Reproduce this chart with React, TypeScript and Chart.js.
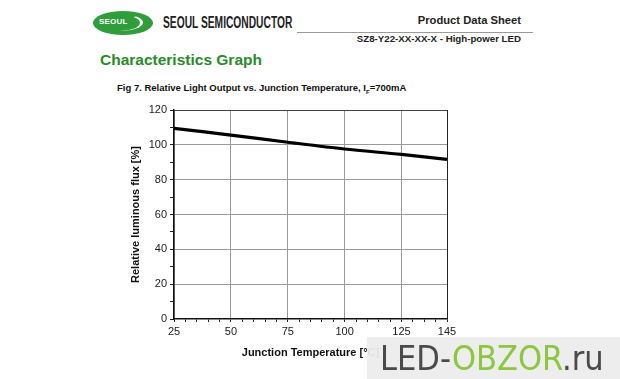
import React, { useEffect, useRef } from "react";
import { Chart, registerables } from "chart.js";

Chart.register(...registerables);

const temperatures = [25, 50, 75, 100, 125, 145];
const relativeFlux = [109.5, 105.6, 101.5, 97.6, 94.5, 91.6];
const xTickValues = [25, 30, 35, 40, 45, 50, 55, 60, 65, 70, 75, 80, 85, 90, 95, 100, 105, 110, 115, 120, 125, 130, 135, 140, 145];
const xLabeled = [25, 50, 75, 100, 125, 145];
const yMin = 0;
const yMax = 120;

const FONT = "'Liberation Sans', Arial, sans-serif";

export default function App() {
  const canvasRef = useRef<HTMLCanvasElement | null>(null);

  useEffect(() => {
    document.body.style.margin = "0";
    const canvas = canvasRef.current;
    if (!canvas) return;
    const chart = new Chart(canvas, {
      type: "line",
      data: {
        datasets: [
          {
            data: temperatures.map((t, i) => ({ x: t, y: relativeFlux[i] })),
            borderColor: "#000000",
            borderWidth: 3.2,
            pointRadius: 0,
            tension: 0.3,
            fill: false,
          },
        ],
      },
      options: {
        responsive: false,
        animation: false,
        layout: { padding: { left: 125, top: 110, right: 173, bottom: 19 } },
        plugins: { legend: { display: false }, tooltip: { enabled: false } },
        scales: {
          x: {
            type: "linear",
            min: 25,
            max: 145,
            afterBuildTicks: (scale: any) => {
              scale.ticks = xTickValues.map((v) => ({ value: v }));
            },
            afterFit: (scale: any) => {
              scale.height = 41;
            },
            ticks: {
              autoSkip: false,
              maxRotation: 0,
              padding: 3,
              color: "#222",
              font: { family: FONT, size: 11 },
              callback: (v: any) => (xLabeled.includes(Number(v)) ? String(v) : ""),
            },
            grid: {
              color: (ctx: any) => {
                const v = ctx.tick ? ctx.tick.value : null;
                if (v === 145) return "#222";
                return v !== null && (v - 25) % 25 === 0 ? "#9a9a9a" : "rgba(0,0,0,0)";
              },
              tickColor: "#222",
              tickLength: 3,
              lineWidth: 1,
            },
            border: { color: "#111", width: 1.5 },
            title: {
              display: true,
              text: "Junction Temperature [°C]",
              color: "#111",
              font: { family: FONT, size: 11, weight: "bold" },
              padding: { top: 4, bottom: 0 },
            },
          },
          y: {
            min: yMin,
            max: yMax,
            afterBuildTicks: (scale: any) => {
              const t = [];
              for (let v = yMin; v <= yMax; v += 10) t.push({ value: v });
              scale.ticks = t;
            },
            afterFit: (scale: any) => {
              scale.width = 49;
            },
            ticks: {
              autoSkip: false,
              padding: 3,
              color: "#222",
              font: { family: FONT, size: 11 },
              callback: (v: any) => (Number(v) % 20 === 0 ? String(v) : ""),
            },
            grid: {
              color: (ctx: any) => {
                const v = ctx.tick ? ctx.tick.value : null;
                if (v === 120) return "#444";
                return v !== null && v % 20 === 0 && v !== 0 ? "#9a9a9a" : "rgba(0,0,0,0)";
              },
              tickColor: "#222",
              tickLength: 4,
              lineWidth: 1,
            },
            border: { color: "#111", width: 1.5 },
            title: {
              display: true,
              text: "Relative luminous flux [%]",
              color: "#111",
              font: { family: FONT, size: 11, weight: "bold" },
              padding: { top: 4, bottom: 0 },
            },
          },
        },
      },
    });
    return () => chart.destroy();
  }, []);

  const abs = (s: React.CSSProperties): React.CSSProperties => ({ position: "absolute", ...s });

  return (
    <div style={{ position: "fixed", left: 0, top: 0, width: 620, height: 379, background: "#fff", overflow: "hidden", fontFamily: FONT }}>
      {/* logo */}
      <div style={abs({ left: 93, top: 11, width: 60, height: 24, borderRadius: "50%", background: "#2f9e3a" })}>
        <div style={abs({ left: 4, top: 3, width: 46, height: 17, borderRadius: "50%", borderRight: "3px solid #fff", borderTop: "1px solid transparent", boxSizing: "border-box" })} />
        <div style={abs({ left: 6, top: 6, fontSize: 8, color: "#fff", fontWeight: "bold", letterSpacing: 0.2 })}>SEOUL</div>
      </div>
      <div style={abs({ left: 163, top: 13, fontSize: 16, fontWeight: "bold", color: "#222", whiteSpace: "nowrap", lineHeight: "19px", transform: "scaleX(0.64)", transformOrigin: "left center" })}>
        SEOUL SEMICONDUCTOR
      </div>
      <div style={abs({ left: 297, top: 32, width: 236, height: 1, background: "#9a9a9a" })} />
      <div style={abs({ right: 99, top: 13, fontSize: 11.2, fontWeight: "bold", color: "#222", whiteSpace: "nowrap", lineHeight: "14px" })}>
        Product Data Sheet
      </div>
      <div style={abs({ right: 99, top: 33, fontSize: 9.7, fontWeight: "bold", color: "#222", whiteSpace: "nowrap", lineHeight: "12px" })}>
        SZ8-Y22-XX-XX-X - High-power LED
      </div>
      <div style={abs({ left: 100, top: 50, fontSize: 15.5, fontWeight: "bold", color: "#2a8a2a", whiteSpace: "nowrap", lineHeight: "20px" })}>
        Characteristics Graph
      </div>
      <div style={abs({ left: 117, top: 82, fontSize: 9.5, fontWeight: "bold", color: "#111", whiteSpace: "nowrap", lineHeight: "12px" })}>
        Fig 7. Relative Light Output vs. Junction Temperature, I<sub style={{ fontSize: 6 }}>F</sub>=700mA
      </div>
      <canvas ref={canvasRef} width={620} height={379} style={abs({ left: 0, top: 0 })} />
      {/* watermark */}
      <div style={abs({ left: 367, top: 337, width: 253, height: 42, background: "rgba(236,236,236,0.95)" })}>
        <div style={abs({ left: 13, top: 1, fontSize: 34, lineHeight: "40px", fontFamily: "'DejaVu Sans Condensed', sans-serif", whiteSpace: "nowrap", letterSpacing: 0 })}>
          <span style={{ color: "#4a4a4a" }}>LED-</span>
          <span style={{ color: "#8dc63f" }}>OBZOR</span>
          <span style={{ color: "#4a4a4a" }}>.ru</span>
        </div>
      </div>
    </div>
  );
}
